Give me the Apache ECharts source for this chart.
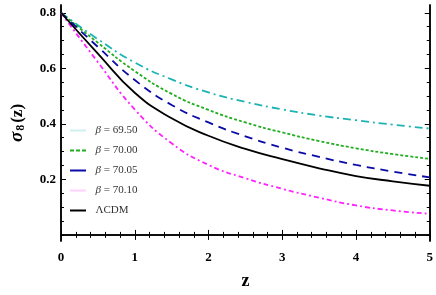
<!DOCTYPE html>
<html>
<head>
<meta charset="utf-8">
<script src="https://cdn.jsdelivr.net/npm/echarts@6/dist/echarts.min.js"></script>
<style>html,body{margin:0;padding:0;background:#fff}#c{width:436px;height:295px}</style>
</head>
<body>
<div id="c"></div>
<script>
var zValues = [0, 0.5, 1, 1.5, 2, 2.5, 3, 3.5, 4, 4.5, 5];
var beta6950 = [0.8, 0.705, 0.621, 0.56, 0.513, 0.479, 0.452, 0.43, 0.413, 0.397, 0.383];
var beta7000 = [0.8, 0.692, 0.59, 0.508, 0.45, 0.405, 0.369, 0.338, 0.312, 0.291, 0.274];
var beta7005 = [0.8, 0.677, 0.558, 0.468, 0.405, 0.355, 0.314, 0.281, 0.252, 0.228, 0.207];
var beta7010 = [0.8, 0.622, 0.452, 0.33, 0.252, 0.204, 0.166, 0.134, 0.106, 0.088, 0.076];
var lcdm     = [0.8, 0.653, 0.512, 0.42, 0.357, 0.31, 0.273, 0.24, 0.212, 0.193, 0.177];
var seriesNames = ['β = 69.50', 'β = 70.00', 'β = 70.05', 'β = 70.10', 'ΛCDM'];
var xTicks = [0, 1, 2, 3, 4, 5];
var yTickLabels = [0.2, 0.4, 0.6, 0.8];
var yMinorTicks = [0, 0.05, 0.1, 0.15, 0.2, 0.25, 0.3, 0.35, 0.4, 0.45, 0.5, 0.55, 0.6, 0.65, 0.7, 0.75, 0.8];

function pairs(arr) { return zValues.map(function (z, i) { return [z, arr[i]]; }); }

var FONT = '"Times New Roman", "Liberation Serif", Tinos, serif';
var YMIN = -0.022, YMAX = 0.828;

function yAx(pos, labels, ticks, len, show) {
  return {
    type: 'value', position: pos, min: YMIN, max: YMAX,
    axisLine: { show: true, lineStyle: { color: '#000', width: 1.5 } },
    splitLine: { show: false },
    axisTick: { show: true, inside: true, length: len, customValues: ticks, lineStyle: { color: '#000', width: 1 } },
    axisLabel: show ? { show: true, customValues: labels, margin: 5, color: '#000', fontFamily: FONT, fontWeight: 'bold', fontSize: 13,
      formatter: function (v) { return (+v).toFixed(1); } } : { show: false }
  };
}

var chart = echarts.init(document.getElementById('c'));
var styles = [
  { color: '#1db3b3', type: [8, 4, 2, 4], width: 1.8 },
  { color: '#1fae1f', type: [3, 2], width: 1.8 },
  { color: '#0a0aa6', type: [8, 6], width: 1.8 },
  { color: '#ff22ff', type: [5, 3, 2, 3], width: 1.8 },
  { color: '#000000', type: 'solid', width: 1.8 }
];
var datas = [beta6950, beta7000, beta7005, beta7010, lcdm];
var SOLID = 'path://M0,0H16V2H0Z';
var DASHED = 'path://M0,0H4V2H0Z M6,0H10V2H6Z M12,0H16V2H12Z';
var legendIcons = [
  { icon: SOLID, color: '#cfeeee' },
  { icon: DASHED, color: '#1fae1f' },
  { icon: SOLID, color: '#0a0aa6' },
  { icon: SOLID, color: '#ffd2ff' },
  { icon: SOLID, color: '#000000' }
];

chart.setOption({
  animation: false,
  backgroundColor: '#fff',
  grid: { left: 55, right: 6, top: 5, bottom: 49 },
  legend: {
    left: 65, top: 120, orient: 'vertical', itemGap: 9, itemWidth: 17, itemHeight: 2,
    textStyle: { fontFamily: FONT, fontSize: 11, color: '#333', padding: [0, 0, 0, 4],
      rich: { b: { fontFamily: FONT, fontStyle: 'italic', fontSize: 11, color: '#333' } } },
    formatter: function (n) { return n.charAt(0) === 'β' ? '{b|β}' + n.slice(1) : n; },
    data: seriesNames.map(function (n, i) {
      return { name: n, icon: legendIcons[i].icon, itemStyle: { color: legendIcons[i].color, borderWidth: 0 } };
    })
  },
  xAxis: [{
    type: 'value', min: 0, max: 5, interval: 1, position: 'bottom',
    name: 'z', nameLocation: 'middle', nameGap: 31,
    nameTextStyle: { fontFamily: FONT, fontWeight: 'bold', fontSize: 18, color: '#000' },
    axisLine: { show: true, lineStyle: { color: '#000', width: 1.5 } },
    splitLine: { show: false },
    axisTick: { show: true, inside: true, length: 5, lineStyle: { color: '#000' } },
    minorTick: { show: true, splitNumber: 5, length: 3, lineStyle: { color: '#000' } },
    axisLabel: { margin: 10, color: '#000', fontFamily: FONT, fontWeight: 'bold', fontSize: 13 }
  }, {
    type: 'value', min: 0, max: 5, interval: 1, position: 'top',
    axisLine: { show: true, lineStyle: { color: '#000', width: 1.5 } },
    splitLine: { show: false },
    axisTick: { show: true, inside: true, length: 5, lineStyle: { color: '#000' } },
    minorTick: { show: true, splitNumber: 5, length: 3, lineStyle: { color: '#000' } },
    axisLabel: { show: false }
  }],
  yAxis: [
    Object.assign(yAx('left', yTickLabels, yTickLabels, 5, true), {
      name: '{s|σ}{sub|8}{p|(z)}', nameLocation: 'middle', nameGap: 34, nameRotate: 90,
      nameTextStyle: { rich: {
        s: { fontFamily: FONT, fontStyle: 'italic', fontWeight: 'bold', fontSize: 19, color: '#000' },
        sub: { fontFamily: FONT, fontWeight: 'bold', fontSize: 12, color: '#000', padding: [7, 2, 0, 1] },
        p: { fontFamily: FONT, fontWeight: 'bold', fontSize: 17, color: '#000' }
      } }
    }),
    yAx('left', [], yMinorTicks, 3, false),
    yAx('right', [], yTickLabels, 5, false),
    yAx('right', [], yMinorTicks, 3, false)
  ],
  series: seriesNames.map(function (n, i) {
    return {
      name: n, type: 'line', xAxisIndex: 0, yAxisIndex: 0, smooth: 0.5, symbol: 'none',
      data: pairs(datas[i]), lineStyle: styles[i], itemStyle: { color: styles[i].color },
      z: i === 4 ? 3 : 2
    };
  })
});
</script>
</body>
</html>
